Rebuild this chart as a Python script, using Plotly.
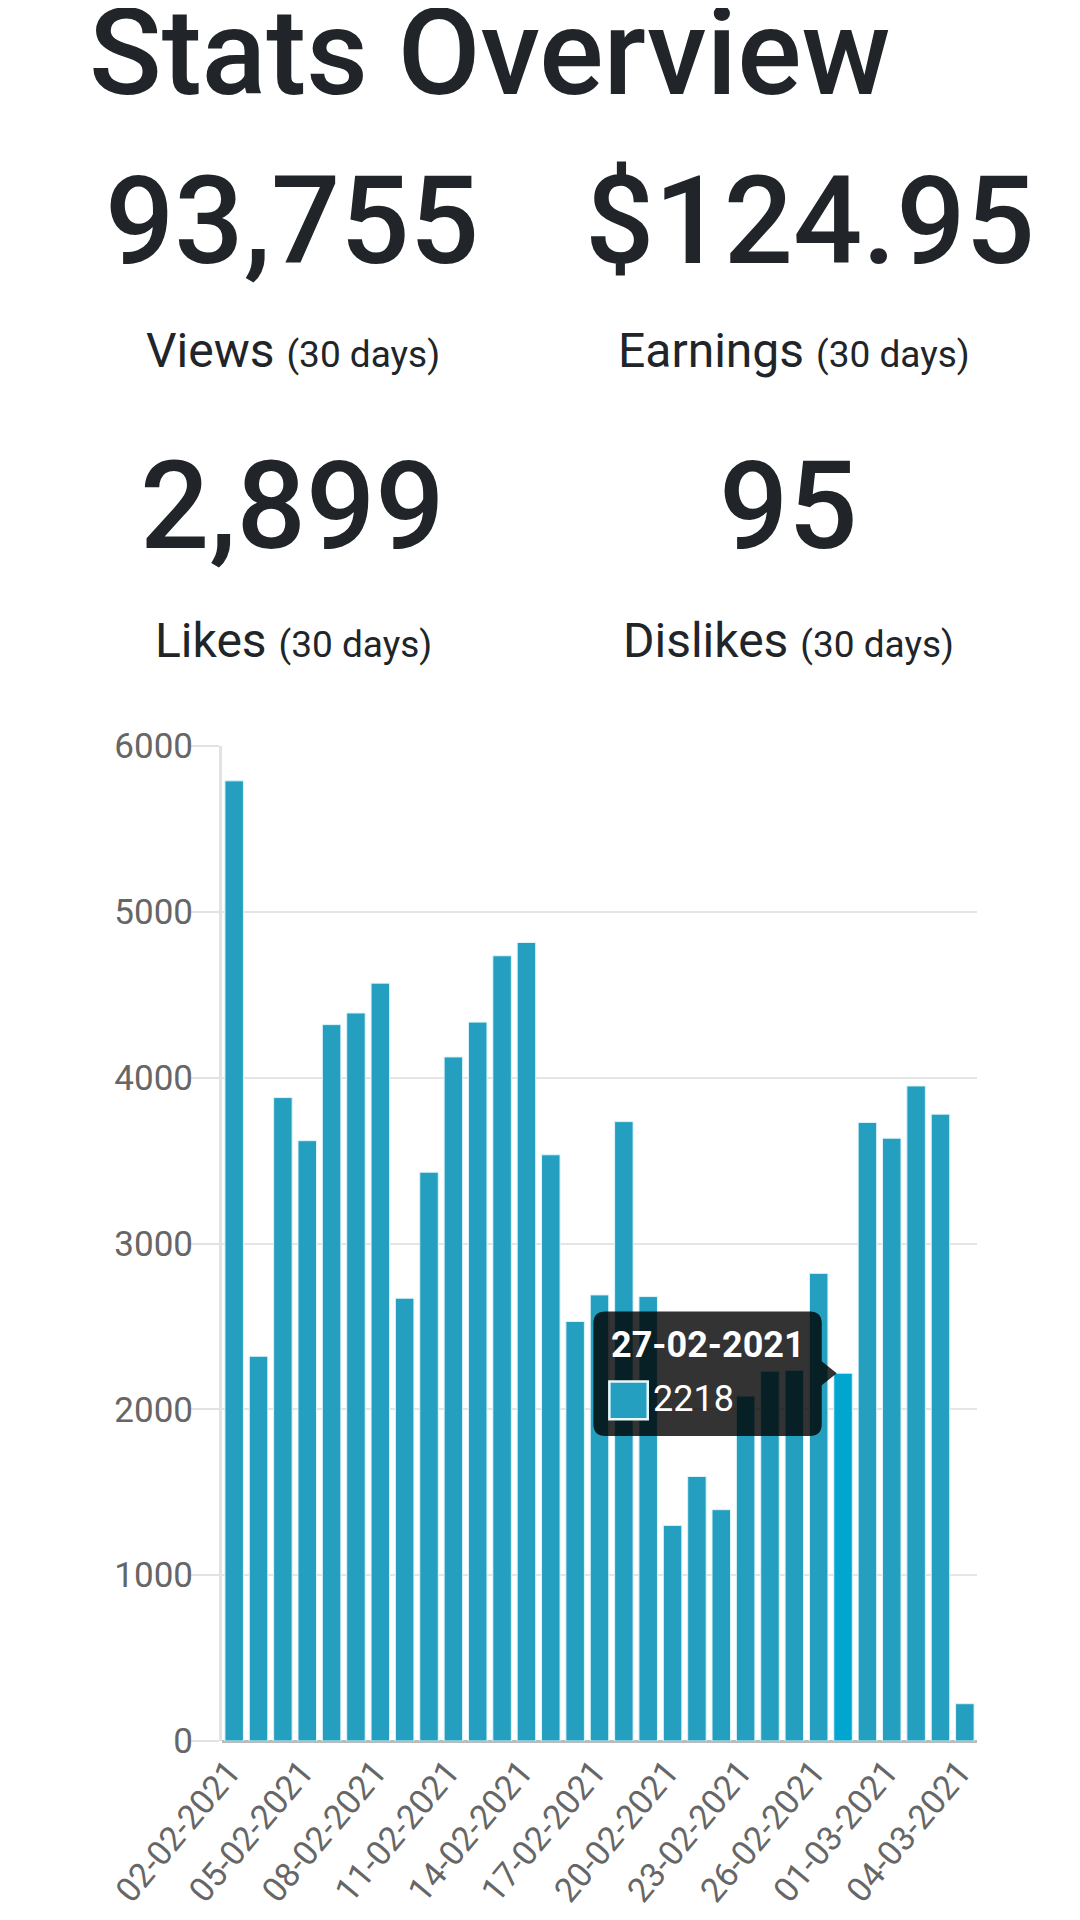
import plotly.graph_objects as go

# daily views shown in the bar chart
dates = [
    "02-02-2021", "03-02-2021", "04-02-2021", "05-02-2021", "06-02-2021",
    "07-02-2021", "08-02-2021", "09-02-2021", "10-02-2021", "11-02-2021",
    "12-02-2021", "13-02-2021", "14-02-2021", "15-02-2021", "16-02-2021",
    "17-02-2021", "18-02-2021", "19-02-2021", "20-02-2021", "21-02-2021",
    "22-02-2021", "23-02-2021", "24-02-2021", "25-02-2021", "26-02-2021",
    "27-02-2021", "28-02-2021", "01-03-2021", "02-03-2021", "03-03-2021",
    "04-03-2021",
]
views = [
    5790, 2320, 3880, 3620, 4320, 4390, 4570, 2670, 3430, 4125,
    4335, 4735, 4815, 3535, 2530, 2690, 3735, 2680, 1300, 1595,
    1395, 2080, 2230, 2235, 2820, 2218, 3730, 3635, 3950, 3780,
    225,
]
tick_dates = dates[::3]
y_ticks = [0, 1000, 2000, 3000, 4000, 5000, 6000]

# summary numbers above the chart
stat_values = ["93,755", "$124.95", "2,899", "95"]
stat_names = ["Views", "Earnings", "Likes", "Dislikes"]
period = "(30 days)"
hover_date = "27-02-2021"

BAR = "#259fbf"
BAR_HOVER = "#00a6cf"
DARK = "#212529"
FONT = "Roboto"

# the page body adds an 8px margin round the figure
OFF = 8
W, H = 1080 - 2 * OFF, 1920 - 2 * OFF
L, T = 222 - OFF, 746 - OFF
R, B = W - (977 - OFF), H - (1741 - OFF)
PW, PH = W - L - R, H - T - B


def px(x):
    return (x - OFF - L) / PW


def py(y):
    return (H - B - (y - OFF)) / PH


hi = dates.index(hover_date)
colors = [BAR_HOVER if d == hover_date else BAR for d in dates]

fig = go.Figure(go.Bar(
    x=dates, y=views,
    marker=dict(color=colors, line=dict(color="#dcf5fb", width=1)),
    hoverinfo="skip",
))

fig.update_layout(
    width=W, height=H,
    margin=dict(l=L, r=R, t=T, b=B, pad=0, autoexpand=False),
    paper_bgcolor="white", plot_bgcolor="white",
    bargap=0.24, showlegend=False, hovermode=False,
    font=dict(family=FONT, color="#666666", size=35),
)
fig.update_xaxes(
    type="category", tickvals=tick_dates, ticktext=tick_dates,
    tickangle=-50, showgrid=False, showline=False, ticks="",
    ticklabelstandoff=3, ticklabelshift=-5, automargin=False,
    tickfont=dict(size=34, color="#666666"),
)
fig.update_yaxes(
    range=[0, 6000], tickvals=y_ticks,
    showgrid=True, gridcolor="#e5e5e5", gridwidth=2,
    zeroline=True, zerolinecolor="#bbbbbb", zerolinewidth=3,
    showline=True, linecolor="#e2e2e2", linewidth=3,
    ticks="outside", ticklen=28, tickcolor="#e2e2e2", tickwidth=2,
    ticklabelstandoff=-9, automargin=False,
    tickfont=dict(size=35, color="#666666"),
)

ann = []
ann.append(dict(
    text="Stats Overview", x=px(87), y=py(53), xref="paper", yref="paper",
    xanchor="left", yanchor="middle", showarrow=False,
    font=dict(family=FONT, size=120, color=DARK, weight=500),
))
centers = [(292, 221), (810, 221), (292, 506), (788, 506)]
label_centers = [(293, 351), (794, 351), (293, 640), (788, 640)]
for val, name, (cx, cy), (lx, ly) in zip(stat_values, stat_names, centers, label_centers):
    ann.append(dict(
        text=val, x=px(cx), y=py(cy), xref="paper", yref="paper",
        xanchor="center", yanchor="middle", showarrow=False,
        font=dict(family=FONT, size=122, color=DARK, weight=500),
    ))
    ann.append(dict(
        text=f"{name} <span style='font-size:37px'>{period}</span>",
        x=px(lx), y=py(ly), xref="paper", yref="paper",
        xanchor="center", yanchor="middle", showarrow=False,
        font=dict(family=FONT, size=48, color=DARK),
    ))

# tooltip for the hovered bar
ann.append(dict(
    text=f"<b>{hover_date}</b>", x=hover_date, y=views[hi], xref="x", yref="y",
    xanchor="left", yanchor="middle", xshift=-234, yshift=28,
    showarrow=False, font=dict(family=FONT, size=36, color="white"),
))
ann.append(dict(
    text=str(views[hi]), x=hover_date, y=views[hi], xref="x", yref="y",
    xanchor="left", yanchor="middle", xshift=-192, yshift=-26,
    showarrow=False, font=dict(family=FONT, size=36, color="white"),
))
fig.update_layout(annotations=ann)

bl, br, bt, bb, r = -249.7, -21.3, 61.6, -62.7, 12
tip = -6.3
path = (
    f"M{bl + r},{bt} L{br - r},{bt} Q{br},{bt} {br},{bt - r} "
    f"L{br},12 L{tip},0 L{br},-12 "
    f"L{br},{bb + r} Q{br},{bb} {br - r},{bb} "
    f"L{bl + r},{bb} Q{bl},{bb} {bl},{bb + r} "
    f"L{bl},{bt - r} Q{bl},{bt} {bl + r},{bt} Z"
)
fig.add_shape(
    type="path", path=path, xref="x", yref="y",
    xsizemode="pixel", ysizemode="pixel",
    xanchor=hover_date, yanchor=views[hi],
    fillcolor="rgba(0,0,0,0.8)", line=dict(width=0),
)
fig.add_shape(
    type="rect", xref="x", yref="y",
    xsizemode="pixel", ysizemode="pixel",
    xanchor=hover_date, yanchor=views[hi],
    x0=-233.7, x1=-195.3, y0=-46, y1=-8.4,
    fillcolor=BAR, line=dict(color="#e6f8fc", width=2.5),
)

fig.write_html("out.html")
